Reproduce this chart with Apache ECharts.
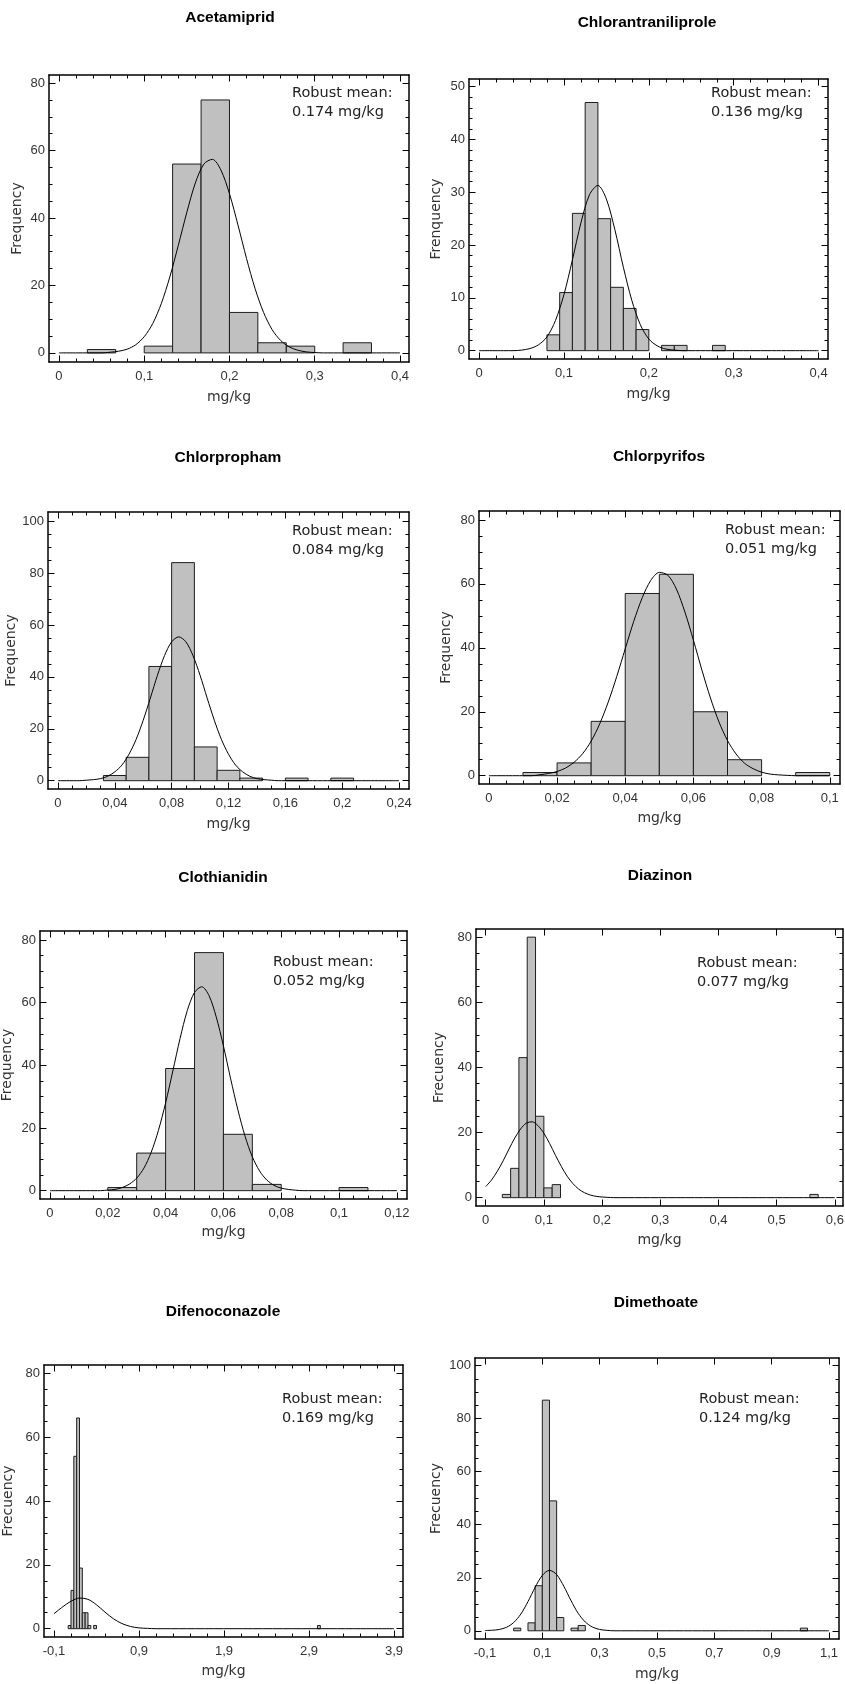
<!DOCTYPE html>
<html>
<head>
<meta charset="utf-8">
<script src="https://cdn.jsdelivr.net/npm/echarts@6/dist/echarts.min.js"></script>
<style>
html,body{margin:0;padding:0;background:#fff}
#chart{width:845px;height:1684px}
</style>
</head>
<body>
<div id="chart"></div>
<script>
// ---------------- DATA ----------------
const titles = ['Acetamiprid','Chlorantraniliprole','Chlorpropham','Chlorpyrifos','Clothianidin','Diazinon','Difenoconazole','Dimethoate'];
const yAxisNames = ['Frequency','Frenquency','Frequency','Frequency','Frequency','Frecuency','Frecuency','Frecuency'];
const xAxisName = 'mg/kg';
const robustMeans = ['0.174','0.136','0.084','0.051','0.052','0.077','0.169','0.124'];

// Acetamiprid
const acetamipridBinWidth = 0.0333;
const acetamipridBinStarts = [0.0333,0.1,0.1333,0.1667,0.2,0.2333,0.2667,0.3333];
const acetamipridCounts = [1,2,56,75,12,3,2,3];
const acetamipridCurve = [[0,0],[0.05,0],[0.06,0.2],[0.07,0.5],[0.08,1.1],[0.09,2.4],[0.1,4.8],[0.11,8.7],[0.12,14.6],[0.13,22.5],[0.14,31.9],[0.15,41.7],[0.16,50.4],[0.17,56],[0.18,57.4],[0.19,54.2],[0.2,47.2],[0.21,37.9],[0.22,28],[0.23,19.1],[0.24,12],[0.25,6.9],[0.26,3.7],[0.27,1.8],[0.28,0.8],[0.29,0.3],[0.3,0.1],[0.31,0],[0.4,0]];
const acetamipridXTicks = [0,0.1,0.2,0.3,0.4];
const acetamipridXLabels = ['0','0,1','0,2','0,3','0,4'];
const acetamipridYTicks = [0,20,40,60,80];

// Chlorantraniliprole
const chlorantraniliproleBinWidth = 0.015;
const chlorantraniliproleBinStarts = [0.08,0.095,0.11,0.125,0.14,0.155,0.17,0.185,0.215,0.23,0.275];
const chlorantraniliproleCounts = [3,11,26,47,25,12,8,4,1,1,1];
const chlorantraniliproleCurve = [[0,0],[0.04,0],[0.05,0.1],[0.06,0.4],[0.07,1.1],[0.08,2.6],[0.09,5.7],[0.1,10.6],[0.11,17.2],[0.12,24.2],[0.13,29.5],[0.14,31.3],[0.15,28.7],[0.16,22.9],[0.17,15.8],[0.18,9.5],[0.19,4.9],[0.2,2.2],[0.21,0.9],[0.22,0.3],[0.23,0.1],[0.24,0],[0.4,0]];
const chlorantraniliproleXTicks = [0,0.1,0.2,0.3,0.4];
const chlorantraniliproleXLabels = ['0','0,1','0,2','0,3','0,4'];
const chlorantraniliproleYTicks = [0,10,20,30,40,50];

// Chlorpropham
const chlorprophamBinWidth = 0.016;
const chlorprophamBinStarts = [0.032,0.048,0.064,0.08,0.096,0.112,0.128,0.16,0.192];
const chlorprophamCounts = [2,9,44,84,13,4,1,1,1];
const chlorprophamCurve = [[0,0],[0.015,0],[0.02,0.2],[0.025,0.4],[0.03,0.8],[0.035,1.7],[0.04,3.4],[0.045,6],[0.05,10.2],[0.055,15.9],[0.06,23.3],[0.065,31.8],[0.07,40.6],[0.075,48.2],[0.08,53.5],[0.085,55.4],[0.09,53.5],[0.095,48.2],[0.1,40.6],[0.105,31.8],[0.11,23.3],[0.115,15.9],[0.12,10.2],[0.125,6],[0.13,3.4],[0.135,1.7],[0.14,0.8],[0.145,0.4],[0.15,0.2],[0.155,0],[0.24,0]];
const chlorprophamXTicks = [0,0.04,0.08,0.12,0.16,0.2,0.24];
const chlorprophamXLabels = ['0','0,04','0,08','0,12','0,16','0,2','0,24'];
const chlorprophamYTicks = [0,20,40,60,80,100];

// Chlorpyrifos
const chlorpyrifosBinWidth = 0.01;
const chlorpyrifosBinStarts = [0.01,0.02,0.03,0.04,0.05,0.06,0.07,0.09];
const chlorpyrifosCounts = [1,4,17,57,63,20,5,1];
const chlorpyrifosCurve = [[0,0],[0.0125,0],[0.015,0.3],[0.0175,0.7],[0.02,1.3],[0.0225,2.4],[0.025,4.2],[0.0275,6.9],[0.03,10.8],[0.0325,16.2],[0.035,23],[0.0375,31],[0.04,39.7],[0.0425,48.3],[0.045,55.7],[0.0475,61.1],[0.05,63.6],[0.0525,62.7],[0.055,58.4],[0.0575,51.2],[0.06,42.4],[0.0625,33],[0.065,24.3],[0.0675,16.8],[0.07,11],[0.0725,6.8],[0.075,3.9],[0.0775,2.2],[0.08,1.1],[0.0825,0.5],[0.085,0.25],[0.0875,0.1],[0.09,0],[0.1,0]];
const chlorpyrifosXTicks = [0,0.02,0.04,0.06,0.08,0.1];
const chlorpyrifosXLabels = ['0','0,02','0,04','0,06','0,08','0,1'];
const chlorpyrifosYTicks = [0,20,40,60,80];

// Clothianidin
const clothianidinBinWidth = 0.01;
const clothianidinBinStarts = [0.02,0.03,0.04,0.05,0.06,0.07,0.1];
const clothianidinCounts = [1,12,39,76,18,2,1];
const clothianidinCurve = [[0,0],[0.0175,0],[0.02,0.2],[0.0225,0.4],[0.025,1],[0.0275,2.1],[0.03,4],[0.0325,7.2],[0.035,12.2],[0.0375,19.2],[0.04,28],[0.0425,38.2],[0.045,48.6],[0.0475,57.5],[0.05,63.3],[0.0525,65.1],[0.055,62.3],[0.0575,55.5],[0.06,46.2],[0.0625,35.7],[0.065,25.8],[0.0675,17.3],[0.07,10.8],[0.0725,6.3],[0.075,3.4],[0.0775,1.7],[0.08,0.8],[0.0825,0.4],[0.085,0.15],[0.0875,0],[0.12,0]];
const clothianidinXTicks = [0,0.02,0.04,0.06,0.08,0.1,0.12];
const clothianidinXLabels = ['0','0,02','0,04','0,06','0,08','0,1','0,12'];
const clothianidinYTicks = [0,20,40,60,80];

// Diazinon
const diazinonBinWidth = 0.0143;
const diazinonBinStarts = [0.0286,0.0429,0.0571,0.0714,0.0857,0.1,0.1143,0.5571];
const diazinonCounts = [1,9,43,80,25,3,4,1];
const diazinonCurve = [[0,3.4],[0.01,5.4],[0.02,8.1],[0.03,11.3],[0.04,14.9],[0.05,18.3],[0.06,21.1],[0.07,22.9],[0.08,23.3],[0.09,22.1],[0.1,19.8],[0.11,16.6],[0.12,13],[0.13,9.6],[0.14,6.6],[0.15,4.3],[0.16,2.6],[0.17,1.5],[0.18,0.8],[0.19,0.4],[0.2,0.2],[0.21,0.1],[0.22,0],[0.6,0]];
const diazinonXTicks = [0,0.1,0.2,0.3,0.4,0.5,0.6];
const diazinonXLabels = ['0','0,1','0,2','0,3','0,4','0,5','0,6'];
const diazinonYTicks = [0,20,40,60,80];

// Difenoconazole
const difenoconazoleBinWidth = 0.0333;
const difenoconazoleBinStarts = [0.0667,0.1,0.1333,0.1667,0.2,0.2333,0.2667,0.3,0.3667,3.0];
const difenoconazoleCounts = [1,12,54,66,19,5,5,1,1,1];
const difenoconazoleCurve = [[-0.1,4.7],[0,6.8],[0.1,8.6],[0.2,9.6],[0.3,9.2],[0.4,7.5],[0.5,5.2],[0.6,3.1],[0.7,1.6],[0.8,0.7],[0.9,0.25],[1.0,0.1],[1.1,0],[3.9,0]];
const difenoconazoleXTicks = [-0.1,0.9,1.9,2.9,3.9];
const difenoconazoleXLabels = ['-0,1','0,9','1,9','2,9','3,9'];
const difenoconazoleYTicks = [0,20,40,60,80];

// Dimethoate
const dimethoateBinWidth = 0.025;
const dimethoateBinStarts = [0,0.05,0.075,0.1,0.125,0.15,0.2,0.225,1.0];
const dimethoateCounts = [1,3,17,87,49,5,1,2,1];
const dimethoateCurve = [[-0.1,0.1],[-0.075,0.2],[-0.05,0.5],[-0.025,1.3],[0,3.1],[0.025,6.3],[0.05,11],[0.075,16.4],[0.1,20.9],[0.125,22.8],[0.15,21.2],[0.175,16.8],[0.2,11.4],[0.225,6.6],[0.25,3.3],[0.275,1.4],[0.3,0.5],[0.325,0.16],[0.35,0],[1.1,0]];
const dimethoateXTicks = [-0.1,0.1,0.3,0.5,0.7,0.9,1.1];
const dimethoateXLabels = ['-0,1','0,1','0,3','0,5','0,7','0,9','1,1'];
const dimethoateYTicks = [0,20,40,60,80,100];

// ---------------- LAYOUT ----------------
const layouts = [
  {l:49, t:75,  w:360, h:287, xMin:-0.0117, xMax:0.4106, yMin:-2.7,  yMax:82.4,  xMinor:0.02,  yMinor:5, tx:230, ty:18,   nx:292, ny:93,   yGap:25, xGap:28.5},
  {l:469,t:79,  w:359, h:280, xMin:-0.0118, xMax:0.411,  yMin:-1.58, yMax:51.45, xMinor:0.02,  yMinor:2, tx:647, ty:23,   nx:711, ny:93,   yGap:26, xGap:28},
  {l:48, t:512, w:361, h:277, xMin:-0.007,  xMax:0.247,  yMin:-3.2,  yMax:103.5, xMinor:0.01,  yMinor:5, tx:228, ty:458,  nx:292, ny:531,  yGap:25, xGap:28},
  {l:479,t:511, w:361, h:273, xMin:-0.0029, xMax:0.103,  yMin:-2.6,  yMax:82.8,  xMinor:0.005, yMinor:5, tx:659, ty:457,  nx:725, ny:530,  yGap:26, xGap:27},
  {l:40, t:931, w:367, h:268, xMin:-0.00345,xMax:0.1235, yMin:-2.66, yMax:82.9,  xMinor:0.005, yMinor:5, tx:223, ty:878,  nx:273, ny:962,  yGap:26, xGap:26},
  {l:476,t:929, w:367, h:277, xMin:-0.0166, xMax:0.614,  yMin:-2.56, yMax:82.5,  xMinor:0,     yMinor:5, tx:660, ty:876,  nx:697, ny:963,  yGap:30, xGap:27},
  {l:44, t:1365,w:359, h:272, xMin:-0.2175, xMax:4.006,  yMin:-2.6,  yMax:82.6,  xMinor:0.2,   yMinor:5, tx:223, ty:1312, nx:282, ny:1399, yGap:29, xGap:27},
  {l:475,t:1358,w:364, h:281, xMin:-0.1348, xMax:1.1348, yMin:-3.1,  yMax:102.9, xMinor:0,     yMinor:5, tx:656, ty:1303, nx:699, ny:1399, yGap:32, xGap:28}
];

const panels = [
  {starts:acetamipridBinStarts, counts:acetamipridCounts, width:acetamipridBinWidth, curve:acetamipridCurve, xTicks:acetamipridXTicks, xLabels:acetamipridXLabels, yTicks:acetamipridYTicks},
  {starts:chlorantraniliproleBinStarts, counts:chlorantraniliproleCounts, width:chlorantraniliproleBinWidth, curve:chlorantraniliproleCurve, xTicks:chlorantraniliproleXTicks, xLabels:chlorantraniliproleXLabels, yTicks:chlorantraniliproleYTicks},
  {starts:chlorprophamBinStarts, counts:chlorprophamCounts, width:chlorprophamBinWidth, curve:chlorprophamCurve, xTicks:chlorprophamXTicks, xLabels:chlorprophamXLabels, yTicks:chlorprophamYTicks},
  {starts:chlorpyrifosBinStarts, counts:chlorpyrifosCounts, width:chlorpyrifosBinWidth, curve:chlorpyrifosCurve, xTicks:chlorpyrifosXTicks, xLabels:chlorpyrifosXLabels, yTicks:chlorpyrifosYTicks},
  {starts:clothianidinBinStarts, counts:clothianidinCounts, width:clothianidinBinWidth, curve:clothianidinCurve, xTicks:clothianidinXTicks, xLabels:clothianidinXLabels, yTicks:clothianidinYTicks},
  {starts:diazinonBinStarts, counts:diazinonCounts, width:diazinonBinWidth, curve:diazinonCurve, xTicks:diazinonXTicks, xLabels:diazinonXLabels, yTicks:diazinonYTicks},
  {starts:difenoconazoleBinStarts, counts:difenoconazoleCounts, width:difenoconazoleBinWidth, curve:difenoconazoleCurve, xTicks:difenoconazoleXTicks, xLabels:difenoconazoleXLabels, yTicks:difenoconazoleYTicks},
  {starts:dimethoateBinStarts, counts:dimethoateCounts, width:dimethoateBinWidth, curve:dimethoateCurve, xTicks:dimethoateXTicks, xLabels:dimethoateXLabels, yTicks:dimethoateYTicks}
];

// ---------------- BUILD ----------------
const TICK_FONT = 'Liberation Sans';
const TEXT_FONT = 'DejaVu Sans';
const MAJOR_LEN = 6.5, MINOR_LEN = 3.5;

function minorValues(majors, step, mn, mx) {
  if (!step) return [];
  const out = [];
  let v = majors[0] - Math.floor((majors[0] - mn) / step + 1e-9) * step;
  for (; v <= mx + 1e-12; v += step) {
    const r = Math.round(v * 1e6) / 1e6;
    if (r < mn || r > mx) continue;
    if (majors.some(m => Math.abs(m - r) < step * 1e-3)) continue;
    out.push(r);
  }
  return out;
}

function renderBar(params, api) {
  const p0 = api.coord([api.value(0), api.value(2)]);
  const p1 = api.coord([api.value(1), 0]);
  return {
    type: 'rect',
    shape: {x: p0[0], y: p0[1], width: p1[0] - p0[0], height: p1[1] - p0[1]},
    style: {fill: '#c0c0c0', stroke: '#1e1e1e', lineWidth: 1}
  };
}

const grid = [], xAxis = [], yAxis = [], series = [], elements = [];

panels.forEach((p, i) => {
  const L = layouts[i];
  grid.push({left: L.l, top: L.t, width: L.w, height: L.h, containLabel: false, outerBoundsMode: 'none'});
  const xMinors = minorValues(p.xTicks, L.xMinor, L.xMin, L.xMax);
  const yMinors = minorValues(p.yTicks, L.yMinor, L.yMin, L.yMax);
  const xFmt = v => { const k = p.xTicks.findIndex(t => Math.abs(t - v) < 1e-9); return k >= 0 ? p.xLabels[k] : ''; };

  const xBase = {type: 'value', gridIndex: i, min: L.xMin, max: L.xMax, splitLine: {show: false}, splitArea: {show: false}};
  const yBase = {type: 'value', gridIndex: i, min: L.yMin, max: L.yMax, splitLine: {show: false}, splitArea: {show: false}};
  const frame = {show: true, onZero: false, lineStyle: {color: '#000', width: 1.5}};
  const hidden = {show: false, onZero: false};
  const tickStyle = {color: '#000', width: 1};

  xAxis.push(Object.assign({}, xBase, {
    position: 'bottom', axisLine: frame,
    axisTick: {show: true, inside: true, length: MAJOR_LEN, customValues: p.xTicks, lineStyle: tickStyle},
    axisLabel: {show: true, customValues: p.xTicks, formatter: xFmt, margin: 8, color: '#333', fontFamily: TICK_FONT, fontSize: 13},
    name: xAxisName, nameLocation: 'middle', nameGap: L.xGap,
    nameTextStyle: {color: '#333', fontFamily: TEXT_FONT, fontSize: 14}
  }));
  xAxis.push(Object.assign({}, xBase, {
    position: 'bottom', axisLine: hidden,
    axisTick: {show: xMinors.length > 0, inside: true, length: MINOR_LEN, customValues: xMinors, lineStyle: tickStyle},
    axisLabel: {show: false}
  }));
  xAxis.push(Object.assign({}, xBase, {
    position: 'top', axisLine: frame,
    axisTick: {show: true, inside: true, length: MAJOR_LEN, customValues: p.xTicks, lineStyle: tickStyle},
    axisLabel: {show: false}
  }));
  xAxis.push(Object.assign({}, xBase, {
    position: 'top', axisLine: hidden,
    axisTick: {show: xMinors.length > 0, inside: true, length: MINOR_LEN, customValues: xMinors, lineStyle: tickStyle},
    axisLabel: {show: false}
  }));

  yAxis.push(Object.assign({}, yBase, {
    position: 'left', axisLine: frame,
    axisTick: {show: true, inside: true, length: MAJOR_LEN, customValues: p.yTicks, lineStyle: tickStyle},
    axisLabel: {show: true, customValues: p.yTicks, formatter: v => String(v), margin: 4, color: '#333', fontFamily: TICK_FONT, fontSize: 13},
    name: yAxisNames[i], nameLocation: 'middle', nameGap: L.yGap, nameRotate: 90,
    nameTextStyle: {color: '#333', fontFamily: TEXT_FONT, fontSize: 14}
  }));
  yAxis.push(Object.assign({}, yBase, {
    position: 'left', axisLine: hidden,
    axisTick: {show: yMinors.length > 0, inside: true, length: MINOR_LEN, customValues: yMinors, lineStyle: tickStyle},
    axisLabel: {show: false}
  }));
  yAxis.push(Object.assign({}, yBase, {
    position: 'right', axisLine: frame,
    axisTick: {show: true, inside: true, length: MAJOR_LEN, customValues: p.yTicks, lineStyle: tickStyle},
    axisLabel: {show: false}
  }));
  yAxis.push(Object.assign({}, yBase, {
    position: 'right', axisLine: hidden,
    axisTick: {show: yMinors.length > 0, inside: true, length: MINOR_LEN, customValues: yMinors, lineStyle: tickStyle},
    axisLabel: {show: false}
  }));

  series.push({
    type: 'custom', xAxisIndex: 4 * i, yAxisIndex: 4 * i, silent: true, z: 2,
    data: p.starts.map((s, k) => [s, s + p.width, p.counts[k]]),
    encode: {x: [0, 1], y: 2},
    renderItem: renderBar
  });
  series.push({
    type: 'line', xAxisIndex: 4 * i, yAxisIndex: 4 * i, silent: true, z: 3,
    data: p.curve, smooth: 0.3,
    showSymbol: false, symbol: 'none',
    lineStyle: {color: '#000', width: 1}
  });

  elements.push({
    type: 'text', x: L.tx, y: L.ty, silent: true,
    style: {text: titles[i], font: 'bold 15.5px "Liberation Sans"', fill: '#000', textAlign: 'center', textVerticalAlign: 'middle'}
  });
  elements.push({
    type: 'text', x: L.nx, y: L.ny, silent: true,
    style: {text: 'Robust mean:', font: '14.5px "DejaVu Sans"', fill: '#222', textAlign: 'left', textVerticalAlign: 'middle'}
  });
  elements.push({
    type: 'text', x: L.nx, y: L.ny + 19.5, silent: true,
    style: {text: robustMeans[i] + ' mg/kg', font: '14.5px "DejaVu Sans"', fill: '#222', textAlign: 'left', textVerticalAlign: 'middle'}
  });
});

const chart = echarts.init(document.getElementById('chart'), null, {renderer: 'canvas'});
chart.setOption({
  animation: false,
  backgroundColor: '#fff',
  grid: grid,
  xAxis: xAxis,
  yAxis: yAxis,
  series: series,
  graphic: {elements: elements}
});
</script>
</body>
</html>
